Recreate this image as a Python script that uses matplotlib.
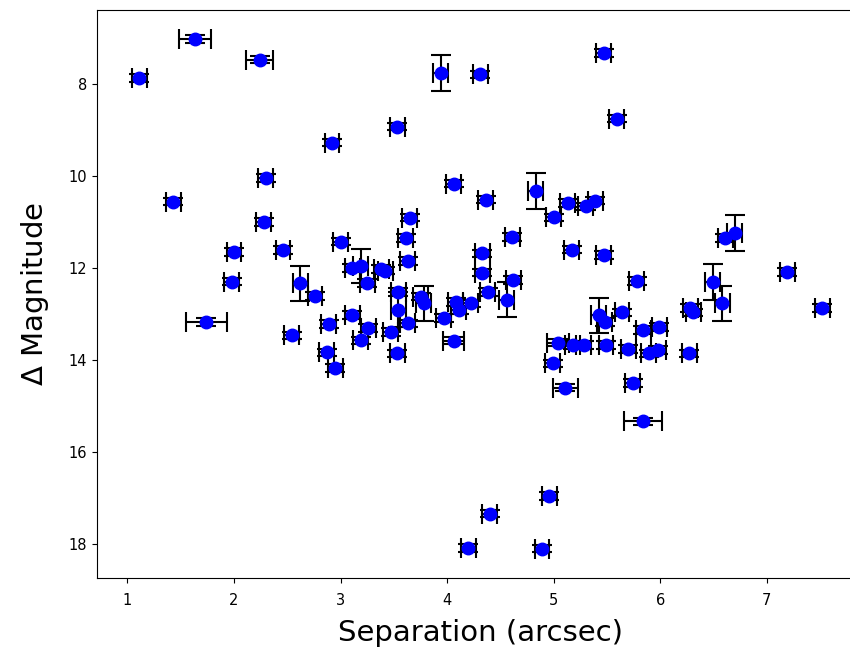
import matplotlib
matplotlib.use('Agg')
import matplotlib.pyplot as plt
import numpy as np

# separation (arcsec), delta magnitude and their errors
sep = [1.11, 1.63, 2.24, 3.94, 4.31, 5.47, 5.59, 3.53, 2.92, 2.30,
       4.06, 1.43, 4.36, 4.83, 5.13, 5.30, 5.39, 5.00, 3.65, 2.28,
       3.00, 3.61, 4.61, 2.00, 2.46, 5.17, 5.47, 4.33, 3.63, 6.61,
       6.70, 7.19, 1.98, 2.62, 2.76, 3.11, 3.19, 3.25, 3.38, 3.42,
       3.54, 3.75, 4.33, 4.62, 5.78, 6.49, 3.78, 3.54, 3.97, 4.08,
       4.11, 4.22, 4.38, 4.56, 5.42, 5.48, 5.64, 6.28, 6.31, 6.58,
       7.52, 1.74, 2.54, 2.89, 2.87, 2.95, 3.11, 3.26, 3.19, 3.47,
       3.53, 3.63, 4.06, 5.04, 5.18, 5.28, 5.49, 5.70, 5.84, 5.99,
       5.89, 5.98, 6.27, 4.99, 5.11, 5.74, 5.84, 4.96, 4.40, 4.20,
       4.89]
dmag = [7.88, 7.03, 7.48, 7.76, 7.80, 7.33, 8.76, 8.93, 9.28, 10.05,
        10.17, 10.56, 10.52, 10.33, 10.59, 10.66, 10.54, 10.90, 10.91, 11.00,
        11.43, 11.35, 11.33, 11.65, 11.61, 11.60, 11.72, 11.68, 11.85, 11.35,
        11.24, 12.09, 12.30, 12.33, 12.61, 12.00, 11.96, 12.33, 12.02, 12.06,
        12.52, 12.62, 12.10, 12.26, 12.28, 12.30, 12.77, 12.91, 13.09, 12.74,
        12.91, 12.77, 12.52, 12.69, 13.03, 13.17, 12.96, 12.87, 12.96, 12.77,
        12.87, 13.17, 13.46, 13.22, 13.83, 14.17, 13.02, 13.30, 13.57, 13.39,
        13.85, 13.20, 13.58, 13.62, 13.67, 13.67, 13.67, 13.76, 13.35, 13.28,
        13.85, 13.78, 13.85, 14.07, 14.60, 14.50, 15.33, 16.95, 17.33, 18.08,
        18.09]

sep_err = np.full(len(sep), 0.07)
dmag_err = np.full(len(sep), 0.08)
# the few with larger uncertainties
for i, e in [(1, 0.15), (2, 0.13), (61, 0.19), (86, 0.18), (72, 0.10), (73, 0.10), (84, 0.12)]:
    sep_err[i] = e
for i, e in [(3, 0.39), (13, 0.39), (33, 0.38), (36, 0.37), (46, 0.38), (47, 0.38),
             (53, 0.38), (54, 0.38), (45, 0.39), (59, 0.38), (30, 0.39)]:
    dmag_err[i] = e

fig = plt.figure(figsize=(8.5, 6.54), dpi=100)
ax = fig.add_axes([97/850, 1 - 578/654, 768/850, 568/654])
ax.errorbar(sep, dmag, xerr=sep_err, yerr=dmag_err, fmt='o', color='blue',
            ecolor='black', markersize=9, capsize=7, elinewidth=1.5, capthick=1.5)
ax.set_xlim(0.715, 7.92)
ax.set_ylim(18.73, 6.4)
ax.tick_params(labelsize=10.5)
ax.tick_params(axis='x', pad=7)
ax.set_xlabel('Separation (arcsec)', fontsize=21, labelpad=8)
ax.set_ylabel('$\\Delta$ Magnitude', fontsize=21, labelpad=13)
fig.savefig('out.png', dpi=100)
